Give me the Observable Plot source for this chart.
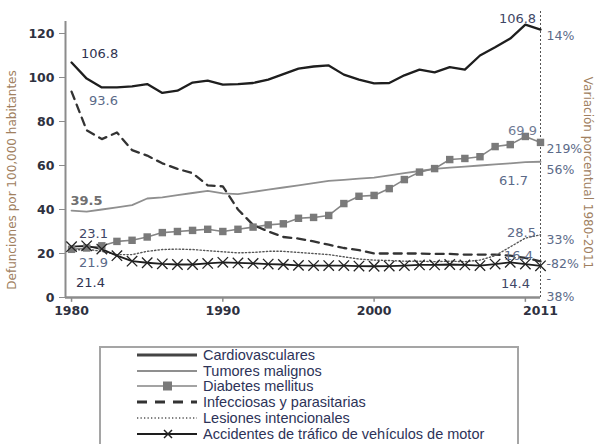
<!DOCTYPE html>
<html><head><meta charset="utf-8">
<script src="https://cdn.jsdelivr.net/npm/d3@7"></script>
<script src="https://cdn.jsdelivr.net/npm/@observablehq/plot@0.6"></script>
<style>
body{margin:0;background:#fff;}
#chart{width:598px;}
#chart svg{display:block;}
</style></head><body><div id="chart"></div>
<script>
const years = [1980,1981,1982,1983,1984,1985,1986,1987,1988,1989,1990,1991,1992,1993,1994,1995,1996,1997,1998,1999,2000,2001,2002,2003,2004,2005,2006,2007,2008,2009,2010,2011];
const seriesNames = ["Cardiovasculares","Tumores malignos","Diabetes mellitus","Infecciosas y parasitarias","Lesiones intencionales","Accidentes de tráfico de vehículos de motor"];
const cardio = [106.8,99.5,95.5,95.5,96,97,93,94,97.7,98.6,96.8,97,97.5,99,101.5,104,105,105.5,101.3,99,97.3,97.5,101,103.6,102.3,104.7,103.6,110,113.7,117.7,124,121.8];
const tumores = [39.5,39,40,41,42,45,45.5,46.5,47.5,48.5,47.3,47,48,49,50,51,52,53,53.5,54,54.5,55.5,56.5,57.5,58.5,59,59.5,60,60.5,61,61.5,61.7];
const diabetes = [21.9,22.5,23.5,25.5,26,27.5,29.5,30,30.5,31,30,31,32,33,33.5,36,36.4,37.3,42.7,46,46.4,49.5,53.6,57,58.6,62.7,63.2,64,68.6,69.5,73.2,70.5];
const infecciosas = [93.6,76,72,75,67,64.5,61,58.5,56.5,51,50.5,40,33,30,27.5,26.8,25.5,24,22.5,21.5,20,20,20,20,19.8,19.8,19.5,19.5,19.5,19,18,16.4];
const lesiones = [21.4,22,21,19.5,19.5,21,21.8,22,21.8,21.3,20.8,20.3,20.5,21,21,20.5,20,19.5,18.5,17.5,17,16.8,16.5,16.5,16.3,16.5,16.3,17,19,23,27,28.5];
const accidentes = [23.1,23.5,22,19,16.5,15.8,15.3,15,15,15.5,16,15.7,15.5,15.2,15,14.6,14.5,14.5,14.5,14.3,14.2,14.3,14.5,14.8,14.8,15,14.8,14.5,15.2,16,15.2,14.4];
const startLabels = ["106.8","39.5","21.9","93.6","21.4","23.1"];
const endLabels = ["106.8","61.7","69.9","16.4","28.5","14.4"];
const pctLabels = ["14%","56%","219%","-82%","33%","-\n38%"];
const yTicks = [0,20,40,60,80,100,120];
const xTickLabels = [1980,1990,2000,2011];
const xTickMarks = [1980,1990,2000,2010];
const yTitle = "Defunciones por 100,000 habitantes";
const y2Title = "Variación porcentual 1980-2011";

const valuesList = [cardio,tumores,diabetes,infecciosas,lesiones,accidentes];
const rows = [];
valuesList.forEach((vals,s)=>vals.forEach((v,i)=>rows.push({series:seriesNames[s], year:years[i], value:v})));
const bySeries = name => rows.filter(d=>d.series===name);

// style config (presentation only)
const st = [
  {stroke:"#1e1e1e", strokeWidth:2.3},
  {stroke:"#8f8f8f", strokeWidth:1.8},
  {stroke:"#858585", strokeWidth:1.6},
  {stroke:"#333", strokeWidth:2.3, strokeDasharray:"8,6"},
  {stroke:"#555", strokeWidth:1.4, strokeDasharray:"1.3,2.2"},
  {stroke:"#1e1e1e", strokeWidth:1.8}
];
// [dx, dy, fill, weight] per series, in series order
const startOff = [[28,-9,"#2f3350","normal"],[15,-10,"#707070","bold"],[22,14,"#5b6a88","normal"],[32,9,"#5b6a88","normal"],[19,32,"#2f3350","normal"],[22,-13,"#3f4766","normal"]];
const endOff = [[-23,-11,"#3f4766"],[-27,19,"#5b6a88"],[-18,-12,"#6f7b95"],[-22,-6,"#5b6a88"],[-19,-2,"#5b6a88"],[-25,18,"#3f4766"]];
const pctDy = [5,7,5,1,4,5];

const last = years.length-1;
const startRows = seriesNames.map((n,s)=>({year:years[0], value:valuesList[s][0], text:startLabels[s], s}));
const endRows = seriesNames.map((n,s)=>({year:years[last], value:valuesList[s][last], text:endLabels[s], s}));
const pctRows = seriesNames.map((n,s)=>({year:years[last], value:valuesList[s][last], text:pctLabels[s], s}));

const marks = [
  Plot.ruleY([0], {x1:1979.6, x2:2011, stroke:"#8c8c8c", strokeWidth:2.5}),
  Plot.ruleX([1979.6], {y1:0, y2:125.5, stroke:"#8c8c8c", strokeWidth:2}),
  Plot.ruleX([2011], {y1:0, y2:130, stroke:"#555", strokeWidth:1, strokeDasharray:"2,2"}),
  Plot.ruleX(xTickMarks, {x:d=>d, y1:0, y2:-2.2, stroke:"#8c8c8c", strokeWidth:1.5}),
  Plot.axisY({ticks:yTicks, tickSize:6, tickPadding:5, stroke:"#8c8c8c", label:null, fill:"#2e3140", fontWeight:"bold", fontSize:12.5}),
  Plot.axisX({ticks:xTickLabels, tickSize:0, tickPadding:9, label:null, tickFormat:d=>String(d), fill:"#2e3140", fontWeight:"bold", fontSize:12.5}),
  Plot.text([yTitle], {frameAnchor:"left", textAnchor:"middle", dx:-53, dy:20, rotate:-90, fill:"#a08060", fontSize:12}),
  Plot.text([y2Title], {frameAnchor:"right", textAnchor:"middle", dx:47, dy:13, rotate:90, fill:"#a08060", fontSize:12})
];
seriesNames.forEach((n,s)=>{
  marks.push(Plot.line(bySeries(n), {x:"year", y:"value", ...st[s], strokeLinejoin:"round"}));
});
marks.push(Plot.dot(bySeries(seriesNames[2]), {x:"year", y:"value", symbol:"square", r:4.2, fill:"#7a7a7a"}));
marks.push(Plot.dot(bySeries(seriesNames[5]), {x:"year", y:"value", symbol:"times", r:4.8, stroke:"#222", strokeWidth:1.3}));
startRows.forEach(d=>{
  const o = startOff[d.s];
  marks.push(Plot.text([d], {x:"year", y:"value", text:"text", dx:o[0], dy:o[1], fill:o[2], fontWeight:o[3], fontSize:13}));
});
endRows.forEach(d=>{
  const o = endOff[d.s];
  marks.push(Plot.text([d], {x:"year", y:"value", text:"text", dx:o[0], dy:o[1], fill:o[2], fontSize:13}));
});
pctRows.forEach(d=>{
  marks.push(Plot.text([d], {x:"year", y:"value", text:"text", dx:6, dy:pctDy[d.s], textAnchor:"start", lineAnchor: d.s===5 ? "top" : "middle", lineHeight:1.4, fill:"#5b6a88", fontSize:12.5}));
});

const chart = Plot.plot({
  width:598, height:330,
  marginLeft:65, marginRight:58, marginTop:22, marginBottom:33,
  x:{domain:[1979.6,2011], axis:null},
  y:{domain:[0,125], axis:null},
  style:{fontFamily:"DejaVu Sans", background:"#fff"},
  marks
});
document.getElementById("chart").appendChild(chart);

// legend
const lg = d3.create("svg").attr("width",598).attr("height",114).style("font-family","'Liberation Sans Narrow', 'Liberation Sans', sans-serif");
lg.append("rect").attr("x",100).attr("y",17).attr("width",418).attr("height",120).attr("fill","none").attr("stroke","#a5a5a5").attr("stroke-width",2);
const rowY = [25,41,56,72,88,104];
seriesNames.forEach((n,s)=>{
  const y = rowY[s];
  const sw = st[s];
  lg.append("line").attr("x1",137).attr("x2",197).attr("y1",y).attr("y2",y)
    .attr("stroke", s===0 ? "#444" : sw.stroke).attr("stroke-width", s===0 ? 3 : s===3 ? 3 : sw.strokeWidth)
    .attr("stroke-dasharray", s===3 ? "10,8" : s===4 ? "1.3,2.2" : null);
  if (s===2) lg.append("rect").attr("x",163).attr("y",y-4.5).attr("width",9).attr("height",9).attr("fill","#7a7a7a");
  if (s===5) lg.append("path").attr("d",`M${164},${y-4}L${172},${y+4}M${164},${y+4}L${172},${y-4}`).attr("stroke","#222").attr("stroke-width",1.5);
  lg.append("text").attr("x",203).attr("y",y).attr("dy","0.35em").attr("fill","#2d3358").attr("font-size",14.5).text(n);
});
document.getElementById("chart").appendChild(lg.node());
</script></body></html>
